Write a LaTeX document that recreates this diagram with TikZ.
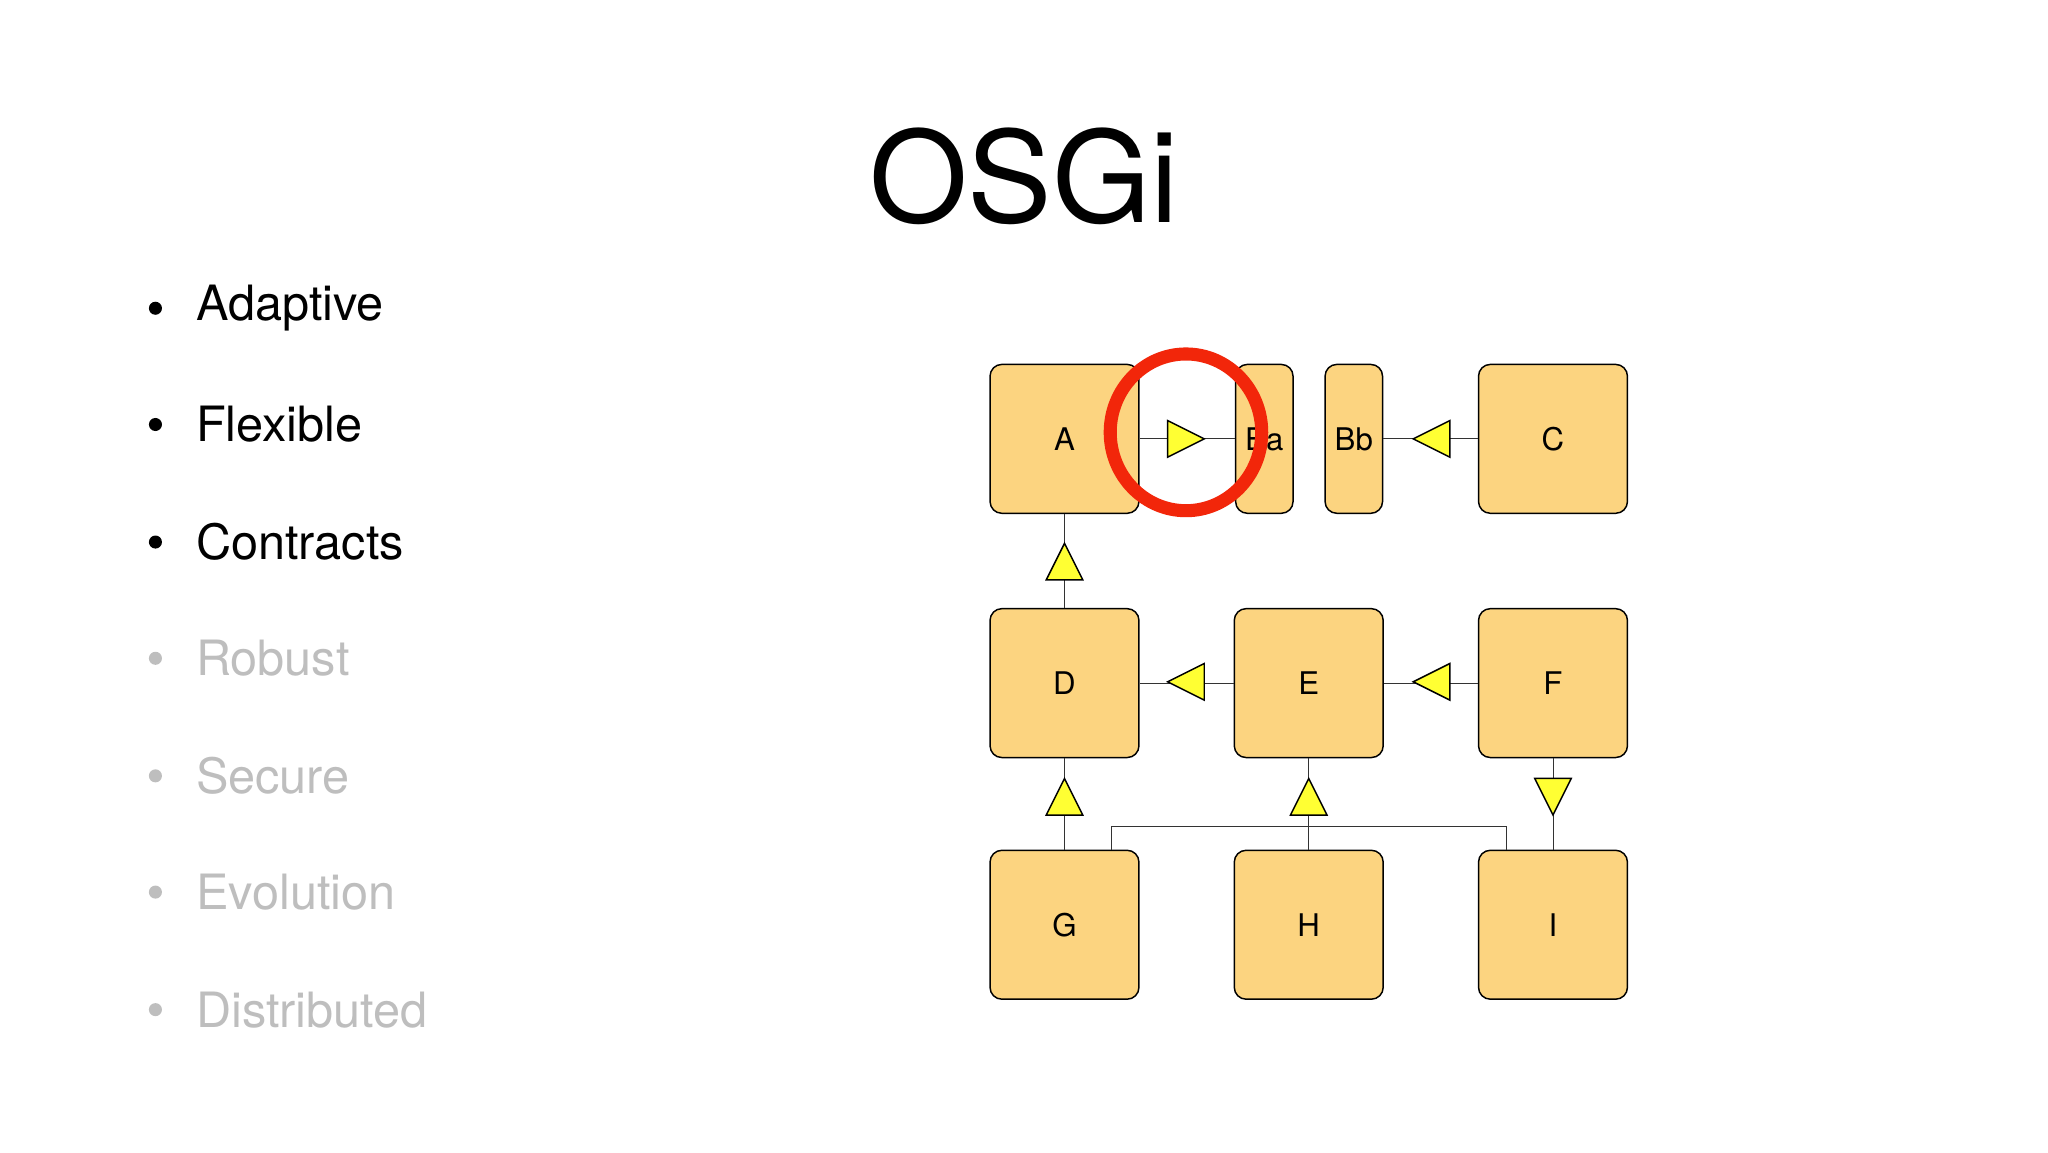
\documentclass[tikz,border=0pt]{standalone}
\usepackage{fontspec}
\setmainfont{TeX Gyre Heros}
\usetikzlibrary{calc}
\definecolor{boxfill}{RGB}{252,212,128}
\definecolor{triyel}{RGB}{255,255,51}
\definecolor{ringred}{RGB}{242,38,10}
\definecolor{dimgray}{RGB}{190,190,190}
\newcommand{\triR}[2]{\draw[tri] (#1-14,#2-14) -- (#1+14,#2) -- (#1-14,#2+14) -- cycle;}
\newcommand{\triL}[2]{\draw[tri] (#1+14,#2-14) -- (#1-14,#2) -- (#1+14,#2+14) -- cycle;}
\newcommand{\triU}[2]{\draw[tri] (#1-14,#2+14) -- (#1,#2-14) -- (#1+14,#2+14) -- cycle;}
\newcommand{\triD}[2]{\draw[tri] (#1-14,#2-14) -- (#1,#2+14) -- (#1+14,#2-14) -- cycle;}
\begin{document}
\begin{tikzpicture}[x=0.05cm,y=-0.05cm,
  box/.style={draw=black, line width=1.6pt, fill=boxfill, rounded corners=0.45cm, minimum width=5.7cm, minimum height=5.7cm, inner sep=0pt, font=\fontsize{34}{40}\selectfont},
  thin box/.style={box, minimum width=2.2cm},
  tri/.style={draw=black, line width=1.6pt, fill=triyel, line join=miter},
  conn/.style={draw=black!80, line width=1pt},
  bullet/.style={anchor=west, font=\fontsize{53}{60}\selectfont, inner sep=0pt},
  dot/.style={circle, fill, inner sep=0pt, minimum size=0.5cm}]
\useasboundingbox[fill=white] (0,0) rectangle (1568,882);
\node[font=\fontsize{138}{150}\selectfont, inner sep=0pt] (title) at (784,135) {OSGi};
% bullets
\foreach \t/\y/\c [count=\i] in {Adaptive/236/black, Flexible/325/black, Contracts/415/black, Robust/504/dimgray, Secure/594/dimgray, Evolution/683/dimgray, Distributed/773/dimgray}{
  \node[dot, text=\c, fill=\c] (b\i) at (119,\y) {};
  \node[bullet, text=\c] (t\i) at (150,\y) {\t};
}
% boxes
\node[box] (A) at (815,336) {A};
\node[thin box] (Ba) at (968,336) {Ba};
\node[thin box] (Bb) at (1036.5,336) {Bb};
\node[box] (C) at (1189,336) {C};
\node[box] (D) at (815,523) {D};
\node[box] (E) at (1002,523) {E};
\node[box] (F) at (1189,523) {F};
\node[box] (G) at (815,708) {G};
\node[box] (H) at (1002,708) {H};
\node[box] (I) at (1189,708) {I};
% connectors
\draw[conn] (A.east) -- (Ba.west);
\draw[conn] (C.west) -- (Bb.east);
\draw[conn] (E.west) -- (D.east);
\draw[conn] (F.west) -- (E.east);
\draw[conn] (D.north) -- (A.south);
\draw[conn] (G.north) -- (D.south);
\draw[conn] (H.north) -- (E.south);
\draw[conn] (F.south) -- (I.north);
\draw[conn] ($(G.north)+(36,0)$) -- ++(0,-18) -| ($(I.north)+(-36,0)$);
% triangles
\triR{908}{336}
\triL{1096}{336}
\triL{908}{522}
\triL{1096}{522}
\triU{815}{430}
\triU{815}{610}
\triU{1002}{610}
\triD{1189}{610}
% highlight ring
\draw[ringred, line width=0.5cm] (908,331) ellipse (58 and 60);
\end{tikzpicture}
\end{document}
